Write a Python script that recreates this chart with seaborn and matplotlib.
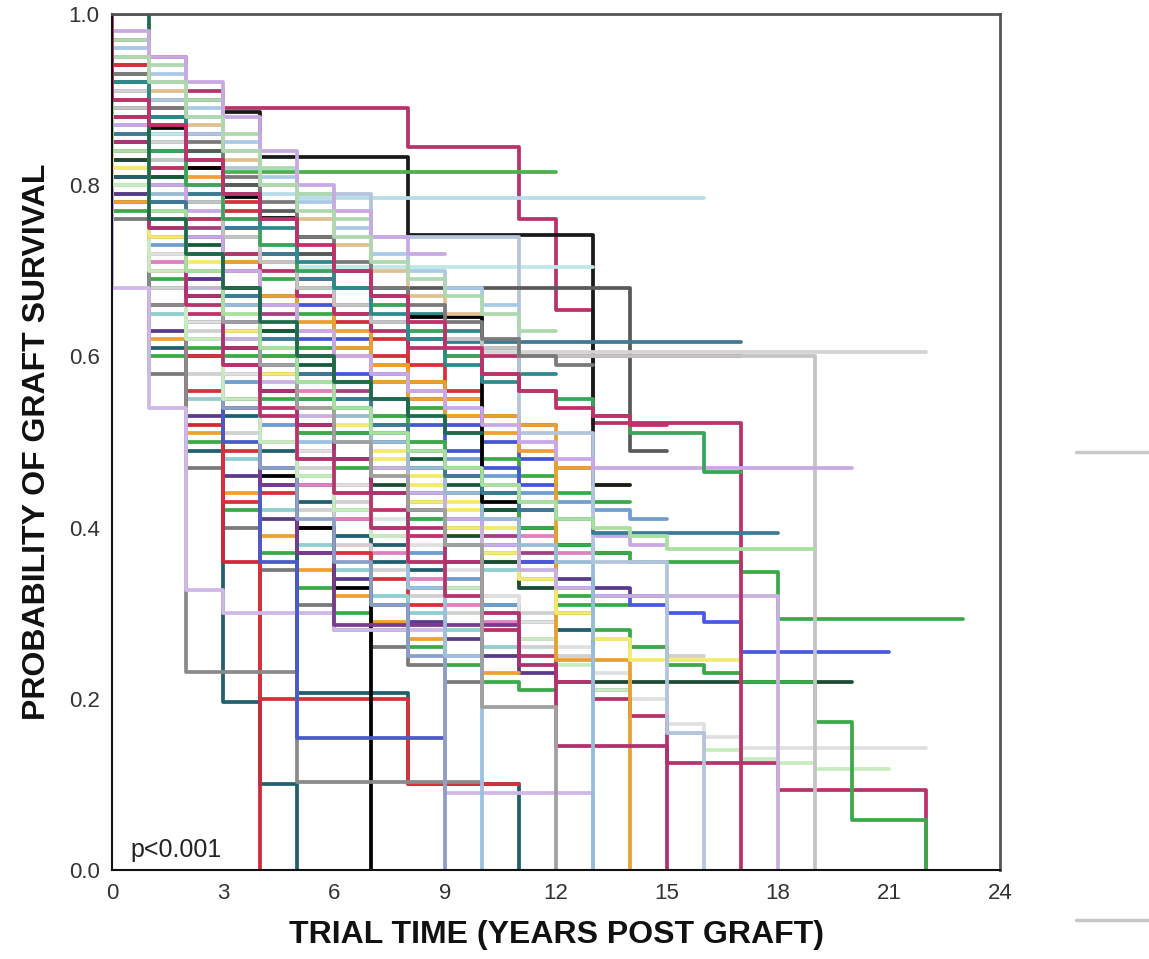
import matplotlib
matplotlib.use("Agg")
import matplotlib.pyplot as plt
from matplotlib.lines import Line2D
import pandas as pd
import seaborn as sns

# Yearly graft survival per transplant centre: value k holds over [k, k+1).
# A trailing 0 means the last graft failed at that year; otherwise follow-up is censored.
upper_centres = [
    [0.97, 0.95, 0.91, 0.89, 0.89, 0.89, 0.89, 0.89, 0.845, 0.845, 0.845, 0.76, 0.654, 0.522, 0.522, 0.522, 0.522, 0],
    [0.95, 0.92, 0.90, 0.885, 0.833, 0.833, 0.833, 0.833, 0.742, 0.742, 0.742, 0.742, 0.742, 0.45],
    [0.90, 0.867, 0.82, 0.786, 0.762, 0.74, 0.68, 0.68, 0.646, 0.646, 0.43],
    [0.93, 0.88, 0.84, 0.815, 0.815, 0.815, 0.815, 0.815, 0.815, 0.815, 0.815, 0.815],
    [0.96, 0.92, 0.88, 0.84, 0.79, 0.785, 0.785, 0.785, 0.785, 0.785, 0.785, 0.785, 0.785, 0.785, 0.785, 0.785],
    [0.92, 0.86, 0.80, 0.76, 0.73, 0.705, 0.705, 0.705, 0.705, 0.705, 0.705, 0.705, 0.705],
    [0.95, 0.90, 0.86, 0.82, 0.80, 0.79, 0.79, 0.74, 0.74, 0.74, 0.74, 0.51, 0.51, 0.36, 0.36, 0.16, 0],
    [0.92, 0.88, 0.84, 0.80, 0.77, 0.72, 0.68, 0.68, 0.68, 0.68, 0.68, 0.68, 0.68, 0.68, 0.49],
    [0.90, 0.84, 0.79, 0.75, 0.72, 0.69, 0.66, 0.64, 0.62, 0.617, 0.617, 0.617, 0.617, 0.617, 0.617, 0.617, 0.617],
    [0.88, 0.82, 0.76, 0.72, 0.70, 0.67, 0.65, 0.63, 0.61, 0.60, 0.60, 0.60, 0.60, 0.60, 0.60, 0.60, 0.60],
    [0.91, 0.85, 0.80, 0.76, 0.73, 0.70, 0.68, 0.66, 0.64, 0.62, 0.605, 0.605, 0.605, 0.605, 0.605, 0.605,
     0.605, 0.605, 0.605, 0.605, 0.605, 0.605],
    [0.89, 0.83, 0.78, 0.74, 0.71, 0.68, 0.66, 0.64, 0.63, 0.62, 0.61, 0.60, 0.60, 0.60, 0.60, 0.60, 0.60, 0.60, 0.60, 0],
    [0.87, 0.80, 0.74, 0.70, 0.66, 0.63, 0.60, 0.58, 0.56, 0.54, 0.52, 0.50, 0.48, 0.47, 0.47, 0.47, 0.47, 0.47, 0.47, 0.47],
    [0.90, 0.84, 0.80, 0.76, 0.73, 0.70, 0.68, 0.66, 0.63, 0.60, 0.58, 0.56, 0.55, 0.53, 0.51, 0.51, 0.465],
    [0.86, 0.78, 0.72, 0.67, 0.62, 0.58, 0.55, 0.52, 0.49, 0.46, 0.44, 0.42, 0.41, 0.394, 0.394, 0.394, 0.394, 0.394],
    [0.84, 0.77, 0.70, 0.65, 0.61, 0.57, 0.54, 0.51, 0.49, 0.47, 0.45, 0.43, 0.41, 0.40, 0.39, 0.375, 0.375, 0.375, 0.375],
    [1.00, 0.76, 0.72, 0.68, 0.64, 0.60, 0.57, 0.55, 0.53, 0.51],
    [0.96, 0.93, 0.89, 0.85, 0.81, 0.78, 0.75, 0.72, 0.70, 0.68, 0.66],
    [0.95, 0.91, 0.87, 0.83, 0.80, 0.76, 0.73, 0.70, 0.67, 0.65],
    [0.93, 0.89, 0.85, 0.81, 0.78, 0.74, 0.71, 0.68, 0.66, 0.64, 0.62, 0.60, 0.59],
    [0.92, 0.88, 0.83, 0.79, 0.75, 0.71, 0.68, 0.65, 0.62, 0.59, 0.57],
    [0.97, 0.94, 0.90, 0.86, 0.82, 0.79, 0.76],
    [0.98, 0.95, 0.92, 0.88, 0.84, 0.80, 0.77, 0.74, 0.72],
    [0.95, 0.92, 0.88, 0.84, 0.80, 0.77, 0.74, 0.71, 0.69, 0.67, 0.65, 0.63],
    [0.90, 0.87, 0.83, 0.79, 0.76, 0.73, 0.70, 0.67, 0.64, 0.61, 0.58, 0.56, 0.54, 0.53, 0.52],
]
upper_colours = [
    "#b8336a", "#1a1a1a", "#000000", "#4cb050", "#b8dcea", "#bfe8e8", "#b4c4dc", "#5a5a5a",
    "#3d7a96", "#b8336a", "#d4d4d4", "#c4c4c4", "#c8a8e8", "#3aa55a", "#3d7a96", "#a8e0a0",
    "#1f6a4a", "#a9c9e6", "#e0c090", "#7a7a7a", "#2d8a8a", "#b0d8b0", "#c9a9e3", "#b0d8b0",
    "#c0306a",
]

late_centres = [
    [0.93, 0.85, 0.78, 0.72, 0.66, 0.61, 0.57, 0.53, 0.50, 0.47, 0.44, 0.40, 0.38, 0.37, 0.36, 0.36, 0.36, 0.348,
     0.293, 0.293, 0.293, 0.293, 0.293],
    [0.85, 0.77, 0.70, 0.64, 0.59, 0.55, 0.51, 0.47, 0.44, 0.41, 0.38, 0.36, 0.33, 0.32, 0.31, 0.30, 0.29, 0.255,
     0.255, 0.255, 0.255],
    [0.83, 0.74, 0.67, 0.61, 0.56, 0.52, 0.48, 0.45, 0.42, 0.39, 0.36, 0.33, 0.30, 0.22, 0.22, 0.22, 0.22, 0.22,
     0.22, 0.22],
    [0.82, 0.72, 0.64, 0.58, 0.53, 0.49, 0.45, 0.41, 0.38, 0.35, 0.32, 0.29, 0.26, 0.23, 0.20, 0.17, 0.155, 0.143,
     0.143, 0.143, 0.143, 0.143],
    [0.80, 0.70, 0.62, 0.55, 0.50, 0.46, 0.42, 0.39, 0.36, 0.33, 0.30, 0.27, 0.24, 0.21, 0.18, 0.16, 0.14, 0.13,
     0.125, 0.118, 0.118],
    [0.84, 0.74, 0.66, 0.59, 0.53, 0.48, 0.44, 0.40, 0.36, 0.32, 0.28, 0.25, 0.22, 0.20, 0.18, 0.125, 0.125, 0.125,
     0.093, 0.093, 0.093, 0.093, 0],
    [0.88, 0.80, 0.72, 0.66, 0.60, 0.55, 0.51, 0.47, 0.43, 0.40, 0.37, 0.34, 0.31, 0.28, 0.26, 0.24, 0.23, 0.22,
     0.22, 0.173, 0.058, 0.058, 0],
    [0.90, 0.82, 0.76, 0.71, 0.67, 0.64, 0.61, 0.59, 0.57, 0.55, 0.53, 0.52, 0.245, 0.245, 0],
    [0.82, 0.74, 0.68, 0.63, 0.58, 0.54, 0.50, 0.46, 0.43, 0.40, 0.37, 0.34, 0.30, 0.27, 0.245, 0.245, 0.245],
    [0.86, 0.76, 0.68, 0.62, 0.57, 0.53, 0.50, 0.47, 0.44, 0.41, 0.38, 0.35, 0.33, 0.32, 0.32, 0.32, 0.32, 0.32, 0],
    [0.85, 0.75, 0.67, 0.61, 0.56, 0.52, 0.48, 0.44, 0.40, 0.36, 0.30, 0.24, 0.145, 0.145, 0.145, 0],
    [0.87, 0.79, 0.72, 0.66, 0.61, 0.57, 0.53, 0.50, 0.47, 0.44, 0.41, 0.38, 0.36, 0],
    [0.86, 0.77, 0.70, 0.64, 0.59, 0.54, 0.50, 0.46, 0.42, 0.38, 0.19, 0.19, 0],
]
late_colours = [
    "#3aaa48", "#4a5ae0", "#1c4a32", "#e0e0e0", "#c8ecc0", "#b8336a", "#3aaa48", "#e8a030",
    "#f5ea70", "#c8b0e0", "#b03070", "#98bcd8", "#a0a0a0",
]

early_centres = [
    [0.82, 0.70, 0.60, 0.55, 0.45, 0.207, 0.207, 0.207, 0.10, 0.10, 0.10, 0],
    [0.81, 0.61, 0.49, 0.196, 0.10, 0],
    [0.84, 0.70, 0.52, 0.36, 0],
    [0.83, 0.72, 0.60, 0.43, 0.20, 0.20, 0.20, 0.20, 0.10, 0.10, 0.10],
    [0.85, 0.74, 0.64, 0.55, 0.46, 0.40, 0.33, 0],
    [0.86, 0.66, 0.231, 0.231, 0.231, 0.103, 0.103, 0.103, 0.103, 0.103],
    [0.68, 0.54, 0.327, 0.30, 0.30, 0.30, 0.28, 0.28, 0.28, 0.09, 0.09, 0.09, 0.09, 0],
    [0.86, 0.74, 0.62, 0.50, 0.36, 0.154, 0.154, 0.154, 0.154],
    [0.88, 0.78, 0.68, 0.58, 0.45, 0.37, 0.286, 0.286, 0.286, 0.286, 0.286],
    [0.84, 0.72, 0.62, 0.54, 0.47, 0.41, 0.36, 0.31, 0.25, 0],
    [0.86, 0.76, 0.68, 0.62, 0.56, 0.50, 0.44, 0.39, 0.33, 0.25, 0],
]
early_colours = [
    "#1f5f6e", "#22606e", "#d0283a", "#d8303a", "#000000", "#8a8a8a", "#d0b8e8", "#4a5ac8",
    "#7a3a90", "#8a9ec8", "#9cc0e0",
]

middle_centres = [
    [0.94, 0.90, 0.86, 0.80, 0.76, 0.72, 0.70, 0.67, 0.65, 0.63, 0.61, 0.58],
    [0.92, 0.87, 0.82, 0.77, 0.72, 0.68, 0.64, 0.60, 0.57, 0.55, 0.53, 0.52],
    [0.91, 0.86, 0.80, 0.75, 0.71, 0.66, 0.62, 0.58, 0.55, 0.52, 0.50, 0.48, 0.47],
    [0.90, 0.84, 0.79, 0.74, 0.69, 0.65, 0.61, 0.57, 0.54, 0.51, 0.48, 0.46, 0.44, 0.43],
    [0.89, 0.82, 0.76, 0.71, 0.67, 0.63, 0.60, 0.57, 0.55, 0.53],
    [0.88, 0.81, 0.75, 0.70, 0.65, 0.60, 0.56, 0.52, 0.49, 0.46, 0.44, 0.42],
    [0.87, 0.80, 0.73, 0.68, 0.63, 0.59, 0.55, 0.51, 0.48, 0.45, 0.42, 0.40, 0.38, 0.37],
    [0.86, 0.78, 0.71, 0.66, 0.61, 0.56, 0.52, 0.48, 0.45, 0.42, 0.40],
    [0.85, 0.78, 0.72, 0.67, 0.62, 0.58, 0.55, 0.52, 0.50, 0.48, 0.46, 0.44, 0.43, 0.42, 0.41],
    [0.84, 0.76, 0.69, 0.64, 0.60, 0.56, 0.53, 0.50, 0.47, 0.44, 0.41, 0.39, 0.37],
    [0.83, 0.75, 0.69, 0.63, 0.58, 0.54, 0.50, 0.46, 0.43, 0.40, 0.38, 0.36, 0.34, 0.33, 0.32],
    [0.82, 0.74, 0.67, 0.61, 0.56, 0.51, 0.47, 0.44, 0.41, 0.38, 0.35, 0.33],
    [0.81, 0.72, 0.65, 0.59, 0.54, 0.49, 0.45, 0.42, 0.39, 0.36],
    [0.80, 0.71, 0.63, 0.57, 0.52, 0.47, 0.43, 0.40, 0.37, 0.34, 0.32, 0.30, 0.28, 0.27, 0.26, 0.25],
    [0.79, 0.69, 0.61, 0.55, 0.50, 0.46, 0.42, 0.39, 0.36],
    [0.78, 0.68, 0.60, 0.54, 0.49, 0.45, 0.41, 0.38, 0.35, 0.33, 0.31, 0.29, 0.28],
    [0.94, 0.89, 0.84, 0.78, 0.73, 0.69, 0.65, 0.62, 0.59, 0.56],
    [0.93, 0.87, 0.81, 0.76, 0.71, 0.67, 0.63, 0.59, 0.56, 0.53, 0.51, 0.49, 0.47, 0.45],
    [0.91, 0.85, 0.78, 0.72, 0.67, 0.62, 0.58, 0.55, 0.52, 0.49, 0.47, 0.45],
    [0.90, 0.83, 0.77, 0.71, 0.66, 0.61, 0.57, 0.53, 0.50, 0.47, 0.45, 0.43, 0.41, 0.39, 0.38],
    [0.89, 0.81, 0.74, 0.68, 0.63, 0.58, 0.54, 0.50, 0.47, 0.44, 0.42, 0.40, 0.38],
    [0.88, 0.79, 0.72, 0.66, 0.61, 0.57, 0.53, 0.49, 0.46, 0.43],
    [0.87, 0.77, 0.70, 0.64, 0.58, 0.54, 0.50, 0.47, 0.44, 0.41, 0.39, 0.37],
    [0.86, 0.75, 0.67, 0.60, 0.55, 0.51, 0.47, 0.44, 0.41, 0.38, 0.36, 0.34, 0.32, 0.31],
    [0.85, 0.73, 0.64, 0.57, 0.52, 0.48, 0.44, 0.40, 0.37, 0.34, 0.31],
    [0.84, 0.71, 0.62, 0.55, 0.50, 0.45, 0.41, 0.37, 0.34, 0.31, 0.29, 0.27],
    [0.83, 0.70, 0.60, 0.53, 0.47, 0.43, 0.39, 0.36, 0.33],
    [0.82, 0.68, 0.58, 0.51, 0.46, 0.42, 0.38, 0.35, 0.32, 0.30, 0.28, 0.26, 0.25],
    [0.81, 0.66, 0.56, 0.49, 0.44, 0.40, 0.37, 0.34, 0.31],
    [0.80, 0.65, 0.55, 0.48, 0.42, 0.38, 0.35, 0.32, 0.30, 0.28, 0.26],
    [0.79, 0.63, 0.53, 0.46, 0.41, 0.37, 0.34, 0.31, 0.29, 0.27, 0.25, 0.23, 0.22, 0.21],
    [0.78, 0.62, 0.51, 0.44, 0.39, 0.35, 0.32, 0.29, 0.27, 0.25, 0.23],
    [0.77, 0.60, 0.50, 0.42, 0.37, 0.33, 0.30, 0.28, 0.26, 0.24, 0.22, 0.21],
    [0.76, 0.58, 0.47, 0.40, 0.35, 0.31, 0.28, 0.26, 0.24, 0.22],
]
middle_colours = [
    "#2d8a8a", "#d0303a", "#4455d8", "#3aaa48", "#f0a030", "#a04080", "#145a3a", "#f3ea6a",
    "#6f9fd0", "#e080c0", "#5a3a8a", "#8ecfd0", "#c0306a", "#d0d0d0", "#3aaa48", "#1f5f6e",
    "#d8303a", "#f0a030", "#4455d8", "#c9a9e3", "#145a3a", "#f3ea6a", "#a04080", "#3aaa48",
    "#6f9fd0", "#e080c0", "#1f5f6e", "#d0d0d0", "#d8303a", "#8ecfd0", "#5a3a8a", "#f0a030",
    "#3aaa48", "#7a7a7a",
]

x_ticks = [0, 3, 6, 9, 12, 15, 18, 21, 24]
y_ticks = [0.0, 0.2, 0.4, 0.6, 0.8, 1.0]
p_value_text = "p<0.001"

# Long-format table: every curve starts at 1.0, steps at each year.
all_curves = middle_centres + early_centres + late_centres + upper_centres
all_colours = middle_colours + early_colours + late_colours + upper_colours
rows = []
for idx, values in enumerate(all_curves):
    name = f"centre_{idx:02d}"
    n = len(values)
    times = [0] + list(range(n))
    surv = [1.0] + list(values)
    if values[-1] != 0:
        times.append(n)
        surv.append(values[-1])
    for order, (t, s) in enumerate(zip(times, surv)):
        rows.append({"centre": name, "order": order, "year": t, "survival": s})
df = pd.DataFrame(rows)
centre_names = [f"centre_{i:02d}" for i in range(len(all_curves))]

sns.set_style("white")
plt.rcParams["font.family"] = ["Liberation Sans", "DejaVu Sans"]

fig = plt.figure(figsize=(11.49, 9.59), dpi=100)
ax = fig.add_axes([0.0975, 0.0928, 0.7728, 0.8926])

sns.lineplot(
    data=df, x="year", y="survival", hue="centre", hue_order=centre_names,
    palette=all_colours, estimator=None, sort=False, legend=False,
    drawstyle="steps-post", linewidth=2.7, ax=ax,
)

ax.set_xlim(0, 24)
ax.set_ylim(0, 1.0)
ax.set_xticks(x_ticks)
ax.set_xticklabels([str(t) for t in x_ticks])
ax.set_yticks(y_ticks)
ax.set_yticklabels([f"{t:.1f}" for t in y_ticks])
ax.tick_params(axis="both", direction="out", length=7, width=1.4, color="#222222",
               labelsize=16, labelcolor="#333333", pad=2)

for side in ("left", "bottom"):
    ax.spines[side].set_color("#111111")
    ax.spines[side].set_linewidth(1.5)
for side in ("top", "right"):
    ax.spines[side].set_color("#555555")
    ax.spines[side].set_linewidth(2.0)

ax.set_xlabel("TRIAL TIME (YEARS POST GRAFT)", fontsize=23, fontweight="bold",
              color="#111111", labelpad=12)
ax.set_ylabel("PROBABILITY OF GRAFT SURVIVAL", fontsize=23, fontweight="bold",
              color="#111111", labelpad=12)

ax.text(0.5, 0.015, p_value_text, fontsize=18, color="#222222", ha="left", va="baseline")

# Short grey rules at the right margin
for y in (0.5287, 0.0407):
    fig.add_artist(Line2D([0.9365, 1.0], [y, y], transform=fig.transFigure,
                          color="#c8c8c8", linewidth=2.5))

fig.savefig("out.png", dpi=100, facecolor="white")
